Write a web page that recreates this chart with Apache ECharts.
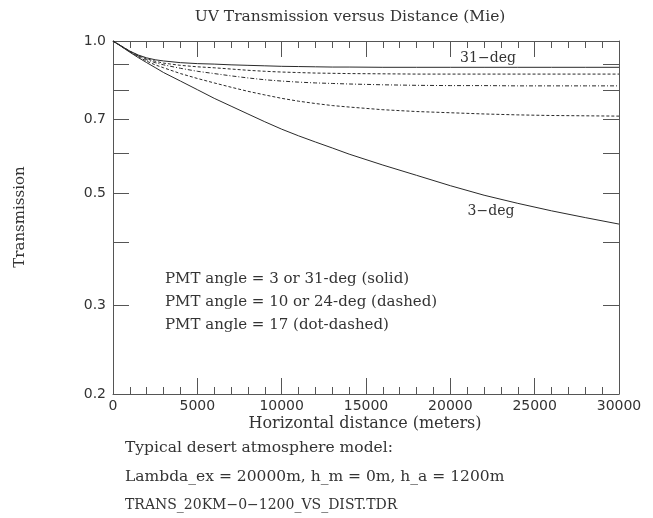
<!DOCTYPE html>
<html>
<head>
<meta charset="utf-8">
<script src="https://cdn.jsdelivr.net/npm/echarts@6/dist/echarts.min.js"></script>
<style>html,body{margin:0;padding:0;background:#fff;}#c{width:653px;height:518px;}</style>
</head>
<body>
<div id="c"></div>
<script>
const distances = [0, 500, 1000, 1500, 2000, 2500, 3000, 4000, 5000, 6000, 7000, 8000, 9000, 10000, 11000, 12000, 13000, 14000, 16000, 18000, 20000, 22000, 24000, 26000, 28000, 30000];
const deg3  = [1.0, 0.975, 0.950, 0.927, 0.906, 0.886, 0.866, 0.833, 0.801, 0.770, 0.743, 0.717, 0.692, 0.669, 0.649, 0.631, 0.614, 0.597, 0.568, 0.542, 0.517, 0.495, 0.477, 0.461, 0.447, 0.434];
const deg10 = [1.0, 0.976, 0.952, 0.931, 0.912, 0.897, 0.885, 0.862, 0.843, 0.826, 0.810, 0.795, 0.782, 0.770, 0.760, 0.752, 0.745, 0.740, 0.731, 0.725, 0.721, 0.717, 0.714, 0.712, 0.711, 0.710];
const deg17 = [1.0, 0.976, 0.953, 0.934, 0.918, 0.906, 0.897, 0.883, 0.871, 0.862, 0.853, 0.845, 0.838, 0.833, 0.829, 0.826, 0.824, 0.822, 0.819, 0.817, 0.816, 0.816, 0.815, 0.815, 0.815, 0.815];
const deg24 = [1.0, 0.977, 0.954, 0.936, 0.922, 0.912, 0.904, 0.895, 0.889, 0.885, 0.880, 0.875, 0.871, 0.868, 0.866, 0.864, 0.863, 0.862, 0.861, 0.860, 0.860, 0.860, 0.860, 0.860, 0.860, 0.860];
const deg31 = [1.0, 0.977, 0.955, 0.938, 0.926, 0.918, 0.913, 0.906, 0.902, 0.900, 0.897, 0.895, 0.893, 0.891, 0.890, 0.889, 0.888, 0.888, 0.887, 0.887, 0.887, 0.887, 0.887, 0.887, 0.887, 0.887];
const yTickValues = [0.2, 0.3, 0.4, 0.5, 0.6, 0.7, 0.8, 0.9, 1.0];
const yLabelValues = [0.2, 0.3, 0.5, 0.7, 1.0];

const serif = '"DejaVu Serif"';
const sans = 'DejaVu Sans';
const lineCol = '#2a2a2a';
const axisCol = '#555';
const textCol = '#333';

function pts(ys) { return distances.map((d, i) => [d, ys[i]]); }

function xAx(pos, showLabel) {
  return {
    type: 'value', position: pos, min: 0, max: 30000, interval: 5000,
    axisLine: { show: true, onZero: false, lineStyle: { color: axisCol, width: 1 } },
    axisTick: { show: true, inside: true, length: 16, lineStyle: { color: axisCol } },
    minorTick: { show: true, splitNumber: 5, length: 7, lineStyle: { color: axisCol } },
    splitLine: { show: false }, minorSplitLine: { show: false },
    axisLabel: { show: showLabel, margin: 5, color: textCol, fontFamily: sans, fontSize: 14,
      formatter: v => String(v) }
  };
}
function yAx(pos, showLabel) {
  return {
    type: 'log', logBase: 10, position: pos, min: 0.2, max: 1.0,
    axisLine: { show: true, onZero: false, lineStyle: { color: axisCol, width: 1 } },
    axisTick: { show: true, inside: true, length: 16, customValues: yTickValues, lineStyle: { color: axisCol } },
    minorTick: { show: false },
    splitLine: { show: false },
    axisLabel: { show: showLabel, margin: 7, color: textCol, fontFamily: sans, fontSize: 14,
      customValues: yLabelValues, formatter: v => (+v).toFixed(1) }
  };
}

function txt(x, y, s, size, align, rot) {
  return { type: 'text', x: x, y: y, rotation: rot || 0,
    style: { text: s, font: size + 'px ' + serif, fill: textCol, align: align, verticalAlign: 'middle' } };
}

function line(ys, type) {
  return { type: 'line', data: pts(ys), showSymbol: false,
    lineStyle: { color: lineCol, width: 1, type: type } };
}

const chart = echarts.init(document.getElementById('c'));
chart.setOption({
  animation: false,
  backgroundColor: '#fff',
  grid: { left: 113, right: 34, top: 41, bottom: 124 },
  xAxis: [xAx('bottom', true), xAx('top', false)],
  yAxis: [yAx('left', true), yAx('right', false)],
  series: [
    line(deg3, 'solid'),
    line(deg10, [3, 2]),
    line(deg17, [4, 2, 1, 2]),
    line(deg24, [3, 2]),
    line(deg31, 'solid')
  ],
  graphic: [
    txt(350, 17, 'UV Transmission versus Distance (Mie)', 15.5, 'center'),
    txt(20, 217, 'Transmission', 15, 'center', Math.PI / 2),
    txt(365, 424, 'Horizontal distance (meters)', 16, 'center'),
    txt(488, 58, '31\u2212deg', 14, 'center'),
    txt(491, 211, '3\u2212deg', 14, 'center'),
    txt(165, 279, 'PMT angle = 3 or 31-deg (solid)', 15, 'left'),
    txt(165, 302, 'PMT angle = 10 or 24-deg (dashed)', 15, 'left'),
    txt(165, 325, 'PMT angle = 17 (dot-dashed)', 15, 'left'),
    txt(125, 448, 'Typical desert atmosphere model:', 15.5, 'left'),
    txt(125, 477, 'Lambda_ex = 20000m, h_m = 0m, h_a = 1200m', 15.5, 'left'),
    txt(125, 505, 'TRANS_20KM\u22120\u22121200_VS_DIST.TDR', 14, 'left')
  ]
});
</script>
</body>
</html>
